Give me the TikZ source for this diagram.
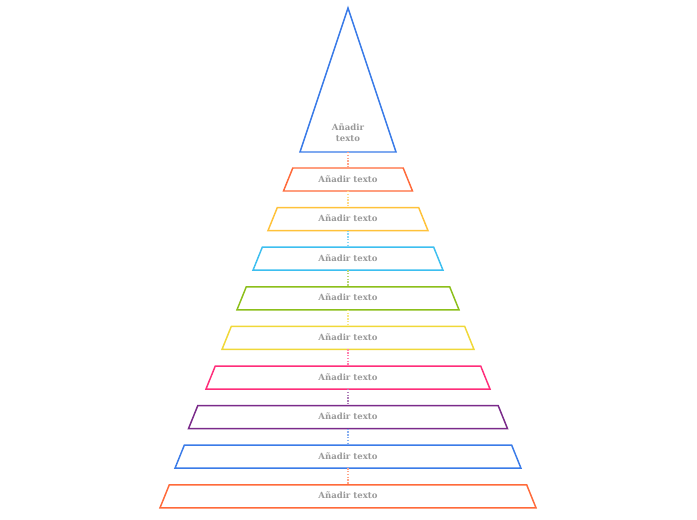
\documentclass[tikz,border=0pt]{standalone}
\usepackage{fontspec}
\setmainfont{DejaVu Serif}
\usepackage{xcolor}
\usepackage{tikz}
\usetikzlibrary{shapes.geometric, positioning}
\definecolor{peakblue}{HTML}{3A7BE8}
\definecolor{tierorange}{HTML}{FF6A3A}
\definecolor{tieryellow}{HTML}{FFC23A}
\definecolor{tiercyan}{HTML}{3DBFF0}
\definecolor{tiergreen}{HTML}{8CBF1A}
\definecolor{tiergold}{HTML}{F0D838}
\definecolor{tierpink}{HTML}{FF2D7A}
\definecolor{tierpurple}{HTML}{7A2A8A}
\definecolor{tierblue}{HTML}{3A7BE8}
\tikzset{
  tier/.style={trapezium, trapezium angle=68, trapezium stretches body, draw,
               line width=1.1pt, fill=white, inner sep=0pt,
               text height=10.6pt, text depth=6.65pt,
               outer sep=0pt, font=\fontsize{6.4}{7}\selectfont\bfseries, text=gray!80},
  peak/.style={draw=peakblue, line width=1.1pt, fill=white, line join=miter},
  peaktext/.style={align=center, font=\fontsize{6.4}{8.25}\selectfont\bfseries, text=gray!80},
  link/.style={densely dotted, line width=1.1pt},
}
\begin{document}
\begin{tikzpicture}[x=0.75pt, y=-0.75pt]
  \useasboundingbox (0,0) rectangle (697,520);
  % top triangle
  \draw[peak] (348,8) -- (396,152) -- (300,152) -- cycle;
  \coordinate (peakbase) at (348,152);
  \node (peaklabel) [peaktext] at (348,132.5) {Añadir\\texto};

  \node (tier1) [tier, draw=tierorange, minimum width=96.75pt, below=12pt of peakbase] {Añadir texto};
  \node (tier2) [tier, draw=tieryellow, minimum width=120pt, below=12.45pt of tier1] {Añadir texto};
  \node (tier3) [tier, draw=tiercyan, minimum width=142.5pt, below=12.45pt of tier2] {Añadir texto};
  \node (tier4) [tier, draw=tiergreen, minimum width=166.5pt, below=12.45pt of tier3] {Añadir texto};
  \node (tier5) [tier, draw=tiergold, minimum width=189pt, below=12.45pt of tier4] {Añadir texto};
  \node (tier6) [tier, draw=tierpink, minimum width=213pt, below=12.45pt of tier5] {Añadir texto};
  \node (tier7) [tier, draw=tierpurple, minimum width=239.25pt, below=12.45pt of tier6] {Añadir texto};
  \node (tier8) [tier, draw=tierblue, minimum width=259.5pt, below=12.45pt of tier7] {Añadir texto};
  \node (tier9) [tier, draw=tierorange, minimum width=282pt, below=12.45pt of tier8] {Añadir texto};

  \draw[link, tierorange!60] (peakbase) -- (tier1.north);
  \draw[link, tieryellow!60] (tier1.south) -- (tier2.north);
  \draw[link, tiercyan!60] (tier2.south) -- (tier3.north);
  \draw[link, tiergreen!60] (tier3.south) -- (tier4.north);
  \draw[link, tiergold!60] (tier4.south) -- (tier5.north);
  \draw[link, tierpink!60] (tier5.south) -- (tier6.north);
  \draw[link, tierpurple!60] (tier6.south) -- (tier7.north);
  \draw[link, tierblue!60] (tier7.south) -- (tier8.north);
  \draw[link, tierorange!60] (tier8.south) -- (tier9.north);
\end{tikzpicture}
\end{document}
